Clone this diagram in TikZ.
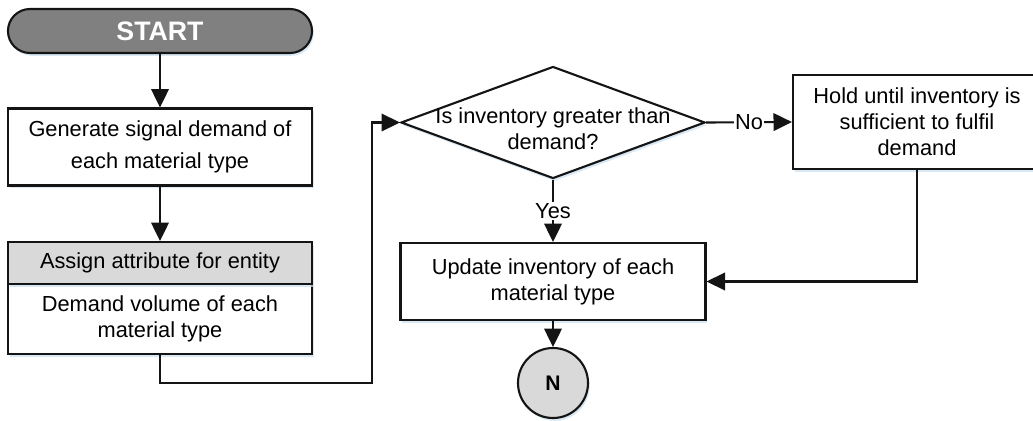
\documentclass[tikz,border=0pt]{standalone}
\usepackage{fontspec}
\setmainfont{Liberation Sans}
\usetikzlibrary{arrows.meta,shapes.geometric,shadows}
\definecolor{startgray}{RGB}{128,128,128}
\definecolor{hdrgray}{RGB}{217,217,217}
\definecolor{linecol}{RGB}{20,20,20}
\definecolor{glow}{RGB}{200,222,240}

\begin{document}
\begin{tikzpicture}[x=0.025cm, y=-0.025cm,
  >={Triangle[length=4.6mm,width=4.4mm]},
  txt/.style={font=\fontsize{15.5}{18.5}\selectfont, align=center},
  glowy/.style={drop shadow={shadow xshift=0.4mm, shadow yshift=-0.7mm, fill=glow, opacity=0.7}},
  procbox/.style={draw=linecol, line width=1.5pt, fill=white, glowy, txt, inner sep=0pt},
  flow/.style={draw=linecol, line width=1.5pt, ->},
  lbl/.style={fill=white, inner sep=1pt, txt}]

  %% ── Frame ───────────────────────────────────────────────────────
  \useasboundingbox (0,0) rectangle (1033,421);

  %% ── Nodes ───────────────────────────────────────────────────────
  % start terminal
  \node[draw=linecol, line width=1.5pt, fill=startgray, rounded corners=0.55cm,
        glowy, minimum width=7.6cm, minimum height=1.1cm, text=white,
        font=\fontsize{19}{22}\selectfont\bfseries] (start) at (160,31) {START};
  % demand signal
  \node[procbox, minimum width=7.6cm, minimum height=1.925cm,
        font=\fontsize{15.5}{22.5}\selectfont] (gen) at (160,147)
    {Generate signal demand of\\each material type};
  % attribute block (header + body)
  \node[procbox, minimum width=7.6cm, minimum height=1.75cm] (vol) at (160,319)
    {Demand volume of each\\material type};
  \node[procbox, fill=hdrgray, minimum width=7.6cm, minimum height=1.05cm] (hdr) at (160,263)
    {Assign attribute for entity};
  % decision
  \node[draw=linecol, line width=1.5pt, fill=white, glowy, diamond, inner sep=0pt,
        minimum width=7.6cm, minimum height=2.8cm] (dec) at (553,122.5) {};
  \node[txt, yshift=-0.15cm] (dectxt) at (dec) {Is inventory greater than\\demand?};
  % hold
  \node[procbox, minimum width=6.2cm, minimum height=2.35cm] (hold) at (917,122)
    {Hold until inventory is\\sufficient to fulfil\\demand};
  % update
  \node[procbox, minimum width=7.625cm, minimum height=1.925cm] (upd) at (553,281.5)
    {Update inventory of each\\material type};
  % connector N
  \node[draw=linecol, line width=1.5pt, fill=hdrgray, circle, glowy, minimum size=1.75cm,
        inner sep=0pt, font=\fontsize{15}{18}\selectfont\bfseries] (nxt) at (553,383) {N};

  %% ── Connectors ──────────────────────────────────────────────────
  \coordinate (feed) at (372,382.7);
  \draw[flow] (start) -- (gen);
  \draw[flow] (gen) -- (hdr);
  \draw[flow] (vol.south) |- (feed) |- (dec.west);
  \draw[flow] (dec.south) -- node[lbl] {Yes} (upd.north);
  \draw[flow] (dec.east) -- node[lbl] {No} (hold.west);
  \draw[flow] (hold.south) |- (upd.east);
  \draw[flow] (upd) -- (nxt);

\end{tikzpicture}
\end{document}
